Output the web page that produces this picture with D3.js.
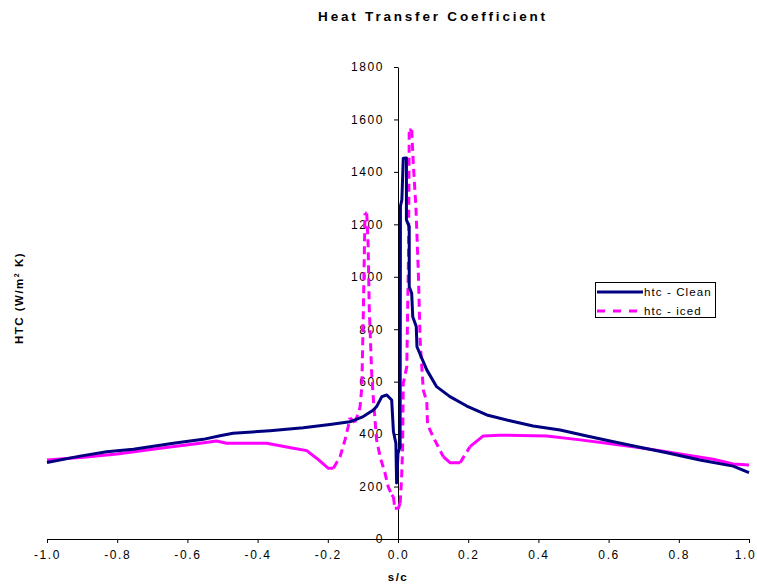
<!DOCTYPE html>
<html>
  <head>
    <meta charset="utf-8" />
    <title>Heat Transfer Coefficient</title>
    <style>
      body { margin: 0; background: #fff; }
      svg text { font-family: "Liberation Sans", Arial, sans-serif; fill: #000; }
    </style>
  </head>
  <body>
    <svg id="chart" width="757" height="588"></svg>
    <script src="https://d3js.org/d3.v7.min.js"></script>
    <script>
      // s/c positions and htc values, clean blade
      const sClean = [-1.0, -0.906, -0.83, -0.754, -0.64, -0.555, -0.507, -0.47, -0.365, -0.27,
        -0.194, -0.137, -0.099, -0.07, -0.061, -0.046, -0.032, -0.018, -0.013, -0.006,
        -0.004, 0.0, 0.006, 0.007, 0.011, 0.015, 0.024, 0.024, 0.032, 0.032,
        0.039, 0.042, 0.052, 0.054, 0.066, 0.082, 0.11, 0.148, 0.196, 0.253,
        0.319, 0.385, 0.462, 0.538, 0.614, 0.689, 0.766, 0.86, 0.955, 1.0];
      const htcClean = [292, 316, 333, 342, 365, 380, 394, 403, 413, 424,
        437, 447, 467, 492, 505, 543, 549, 530, 409, 365,
        214, 327, 352, 1270, 1293, 1452, 1453, 1217, 1191, 962,
        937, 848, 810, 733, 695, 645, 581, 543, 507, 473,
        451, 431, 416, 393, 371, 350, 329, 301, 278, 253];

      // s/c positions and htc values, iced blade
      const sIced = [-1.0, -0.897, -0.8, -0.678, -0.564, -0.517, -0.488, -0.374, -0.298, -0.26,
        -0.232, -0.199, -0.184, -0.165, -0.151, -0.142, -0.137, -0.123, -0.113, -0.108,
        -0.103, -0.099, -0.094, -0.089, -0.085, -0.082, -0.075, -0.07, -0.061, -0.051,
        -0.037, -0.028, -0.018, -0.013, -0.009, 0.001, 0.006, 0.01, 0.013, 0.015,
        0.025, 0.03, 0.032, 0.039, 0.044, 0.051, 0.058, 0.063, 0.072, 0.082,
        0.084, 0.091, 0.1, 0.129, 0.148, 0.177, 0.205, 0.243, 0.29, 0.424,
        0.519, 0.595, 0.67, 0.746, 0.822, 0.898, 0.955, 1.0];
      const htcIced = [301, 312, 324, 346, 365, 374, 365, 365, 346, 337,
        308, 270, 270, 314, 378, 428, 462, 445, 479, 505,
        581, 848, 1242, 1242, 1115, 886, 632, 530, 378, 314,
        251, 200, 168, 161, 117, 117, 136, 225, 339, 594,
        657, 1090, 1560, 1560, 1420, 1267, 1013, 759, 568, 524,
        441, 416, 390, 314, 291, 291, 352, 393, 396, 393,
        378, 365, 352, 337, 320, 304, 286, 282];

      const xTicks = [-1.0, -0.8, -0.6, -0.4, -0.2, 0.0, 0.2, 0.4, 0.6, 0.8, 1.0];
      const yTicks = [0, 200, 400, 600, 800, 1000, 1200, 1400, 1600, 1800];

      const seriesNames = ["htc - Clean", "htc -  iced"];
      const seriesColors = ["#000080", "#ff00ff"];

      const svg = d3.select("#chart");

      const xScale = d3.scaleLinear().domain([-1, 1]).range([47, 749]);
      const yScale = d3.scaleLinear().domain([0, 1800]).range([539, 67]);

      // plain hyphen for negatives, like the original
      const fmt = (d) => d.toFixed(1);

      // x axis, crossing at htc = 0
      const xAxis = svg
        .append("g")
        .attr("transform", "translate(0," + yScale(0) + ")")
        .call(d3.axisBottom(xScale).tickValues(xTicks).tickSize(4).tickSizeOuter(0).tickPadding(7).tickFormat(fmt));

      // y axis, crossing at s/c = 0
      const yAxis = svg
        .append("g")
        .attr("transform", "translate(" + xScale(0) + ",0)")
        .call(d3.axisLeft(yScale).tickValues(yTicks).tickSize(4).tickSizeOuter(0).tickPadding(10).tickFormat(d3.format("d")));

      svg.selectAll(".domain, .tick line").attr("stroke", "#000").attr("stroke-width", 1);
      svg.selectAll(".tick text")
        .style("font-size", "12px")
        .style("letter-spacing", "1.6px")
        .attr("fill", "#000");
      // keep the last x label inside the window
      xAxis.selectAll(".tick text").filter((d) => d == 1).attr("dx", "-4");

      // Draw a series: flat runs solid, steep runs dashed (like the original's long dashed strokes)
      function drawSeries(xs, ys, color, dashed) {
        const pts = xs.map((s, i) => [xScale(s), yScale(ys[i])]);
        if (!dashed) {
          svg.append("path")
            .attr("d", d3.line()(pts))
            .attr("fill", "none")
            .attr("stroke", color)
            .attr("stroke-width", 3)
            .attr("stroke-linejoin", "round");
          return;
        }
        let runs = [];
        let cur = null;
        for (let i = 1; i < pts.length; i++) {
          const dx = Math.abs(pts[i][0] - pts[i - 1][0]);
          const dy = Math.abs(pts[i][1] - pts[i - 1][1]);
          const steep = dy > dx * 1.2 && dy > 6;
          if (!cur || cur.steep !== steep) {
            cur = { steep: steep, pts: [pts[i - 1]] };
            runs.push(cur);
          }
          cur.pts.push(pts[i]);
        }
        runs.forEach((r) => {
          svg.append("path")
            .attr("d", d3.line()(r.pts))
            .attr("fill", "none")
            .attr("stroke", color)
            .attr("stroke-width", 3)
            .attr("stroke-linejoin", "round")
            .attr("stroke-dasharray", r.steep ? "8,5" : null);
        });
      }

      drawSeries(sIced, htcIced, seriesColors[1], true);
      drawSeries(sClean, htcClean, seriesColors[0], false);

      // title
      svg.append("text")
        .attr("x", 433)
        .attr("y", 21)
        .attr("text-anchor", "middle")
        .style("font-size", "13.5px")
        .style("font-weight", "bold")
        .style("letter-spacing", "2.8px")
        .text("Heat Transfer Coefficient");

      // axis titles
      svg.append("text")
        .attr("x", 398)
        .attr("y", 581)
        .attr("text-anchor", "middle")
        .style("font-size", "11.5px")
        .style("font-weight", "bold")
        .style("letter-spacing", "1.5px")
        .text("s/c");

      const yLabel = svg.append("text")
        .attr("transform", "translate(23,298) rotate(-90)")
        .attr("text-anchor", "middle")
        .style("font-size", "11.5px")
        .style("font-weight", "bold")
        .style("letter-spacing", "1.5px");
      yLabel.append("tspan").text("HTC  (W/m");
      yLabel.append("tspan").attr("dy", -4).style("font-size", "7px").text("2");
      yLabel.append("tspan").attr("dy", 4).text(" K)");

      // legend
      const legend = svg.append("g");
      legend.append("rect")
        .attr("x", 595.5)
        .attr("y", 282.5)
        .attr("width", 120)
        .attr("height", 35)
        .attr("fill", "#fff")
        .attr("stroke", "#000")
        .attr("stroke-width", 1);

      seriesNames.forEach((name, i) => {
        const ly = 292 + i * 19;
        legend.append("line")
          .attr("x1", 597)
          .attr("x2", i == 0 ? 643 : 637)
          .attr("y1", ly)
          .attr("y2", ly)
          .attr("stroke", seriesColors[i])
          .attr("stroke-width", 3)
          .attr("stroke-dasharray", i == 0 ? null : "8,8");
        legend.append("text")
          .attr("x", 644)
          .attr("y", ly + 4)
          .style("font-size", "11.5px")
          .style("letter-spacing", "1.1px")
          .text(name);
      });
    </script>
  </body>
</html>
